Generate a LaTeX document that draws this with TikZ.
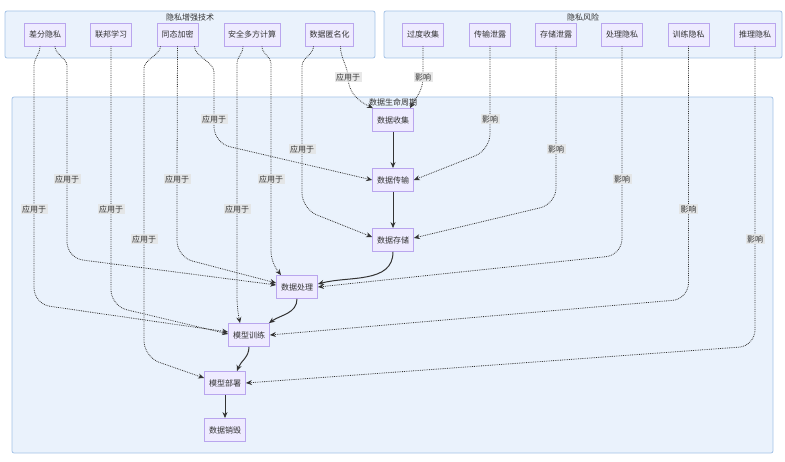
\documentclass[tikz,border=0pt]{standalone}
\usepackage{fontspec}
\setmainfont{Noto Sans CJK SC}
\usepackage{tikz}
\usetikzlibrary{positioning}
\usetikzlibrary{arrows.meta}
\definecolor{nodefill}{HTML}{EEEBFF}
\definecolor{nodeline}{HTML}{B9A6EE}
\definecolor{clusterfill}{HTML}{EAF2FC}
\definecolor{clusterline}{HTML}{A3C2E6}
\definecolor{edgecol}{HTML}{333333}
\definecolor{labelbg}{HTML}{E4E4E4}
\tikzstyle{stage}=[draw=nodeline, fill=nodefill, line width=0.8pt, minimum width=41pt, minimum height=23pt, inner sep=4pt, text=edgecol, font=\fontsize{8}{9}\selectfont]
\tikzstyle{cluster}=[draw=clusterline, fill=clusterfill, line width=0.8pt, rounded corners=2pt]
\tikzstyle{clustertitle}=[text=edgecol, font=\fontsize{8}{9}\selectfont, inner sep=1pt]
\tikzstyle{arrow}=[->, >={Stealth[length=6pt,width=5pt]}, draw=edgecol, line width=1pt]
\tikzstyle{apply}=[->, >={Stealth[length=6pt,width=5pt]}, draw=edgecol, line width=0.8pt, densely dotted]
\tikzstyle{lbl}=[fill=labelbg, fill opacity=0.85, text opacity=1, text=edgecol, font=\fontsize{8}{9}\selectfont, inner sep=1.5pt]

\begin{document}
\begin{tikzpicture}[x=1pt, y=1pt]
      \useasboundingbox (0,0) rectangle (785,-462);

      % clusters
      \draw [cluster] (5,-11) rectangle (375,-58);
      \draw [cluster] (384,-11) rectangle (782,-58);
      \draw [cluster] (12,-97) rectangle (773,-453);
      \node [clustertitle] (techtitle) at (190,-17) {隐私增强技术};
      \node [clustertitle] (risktitle) at (583,-17) {隐私风险};
      \node [clustertitle] (lifetitle) at (393,-102) {数据生命周期};

      \node [stage] (dp) at (45,-34.5) {差分隐私};
      \node [stage] (fl) at (111,-34.5) {联邦学习};
      \node [stage] (he) at (177.5,-34.5) {同态加密};
      \node [stage] (smpc) at (252,-34.5) {安全多方计算};
      \node [stage] (da) at (329.5,-34.5) {数据匿名化};

      \node [stage] (oc) at (423,-34.5) {过度收集};
      \node [stage] (tl) at (490,-34.5) {传输泄露};
      \node [stage] (sl) at (556,-34.5) {存储泄露};
      \node [stage] (pp) at (622,-34.5) {处理隐私};
      \node [stage] (tp) at (688.5,-34.5) {训练隐私};
      \node [stage] (ip) at (755,-34.5) {推理隐私};

      \node [stage] (collect) at (393,-120) {数据收集};
      \node [stage] (transmit) at (393,-180) {数据传输};
      \node [stage] (store) at (393,-240) {数据存储};
      \node [stage] (process) at (297,-287) {数据处理};
      \node [stage] (train) at (249,-335) {模型训练};
      \node [stage] (deploy) at (225,-383) {模型部署};
      \node [stage] (destroy) at (225,-430) {数据销毁};

      \draw [arrow] (collect) -- (transmit);
      \draw [arrow] (transmit) -- (store);
      \draw [arrow] (store.south) to[out=-90,in=15] ([yshift=3pt]process.east);
      \draw [arrow] (process.south) to[out=-90,in=35] ([xshift=-1pt]train.north east);
      \draw [arrow] (train.south) to[out=-90,in=70] ([xshift=12pt]deploy.north);
      \draw [arrow] (deploy) -- (destroy);

      % techniques applied to the stages
      \draw [apply] ([xshift=-5pt]dp.south) .. controls +(0,-8) and +(0,8) .. (34,-66) -- (34,-209) node[lbl]{应用于} [rounded corners=16pt] -- (34,-304) -- ([yshift=3pt]train.west);
      \draw [apply] ([xshift=10pt]dp.south) .. controls +(0,-8) and +(0,8) .. (67,-66) -- (67,-179) node[lbl]{应用于} [rounded corners=16pt] -- (67,-258) -- ([yshift=2pt]process.west);
      \draw [apply] (fl.south) -- (111,-209) node[lbl]{应用于} [rounded corners=16pt] -- (111,-306) -- ([yshift=1pt]train.west);
      \draw [apply] ([xshift=-17pt]he.south) .. controls +(0,-8) and +(0,8) .. (144,-68) -- (144,-239) node[lbl]{应用于} [rounded corners=16pt] -- (144,-357) -- ([yshift=5pt]deploy.west);
      \draw [apply] (he.south) -- (177,-179) node[lbl]{应用于} [rounded corners=16pt] -- (177,-257) -- ([yshift=4pt]process.west);
      \draw [apply] ([xshift=17pt]he.south) .. controls +(0,-10) and +(0,10) .. (214,-72) -- (214,-119) node[lbl]{应用于} [rounded corners=16pt] -- (214,-143) -- (transmit.west);
      \draw [apply] ([xshift=-9pt]smpc.south) .. controls +(0,-8) and +(0,8) .. (237,-64) -- (237,-209) node[lbl]{应用于} [rounded corners=10pt] -- (237,-308) -- ([xshift=-9pt]train.north);
      \draw [apply] ([xshift=10pt]smpc.south) .. controls +(0,-8) and +(0,8) .. (271,-64) -- (271,-179) node[lbl]{应用于} [rounded corners=10pt] -- (271,-262) -- ([xshift=-16pt]process.north);
      \draw [apply] ([xshift=-16pt]da.south) .. controls +(0,-8) and +(0,8) .. (302,-66) -- (302,-149) node[lbl]{应用于} [rounded corners=16pt] -- (302,-209) -- ([yshift=3pt]store.west);
      \draw [apply] ([xshift=11pt]da.south) .. controls +(0,-12) and +(0,10) .. (348,-77) node[lbl]{应用于} to[out=-90,in=155] ([xshift=-20pt]collect.north);

      % risks affecting the stages
      \draw [apply] (oc.south) -- (423,-77) node[lbl]{影响} to[out=-90,in=60] ([xshift=17pt]collect.north);
      \draw [apply] (tl.south) -- (490,-119) node[lbl]{影响} [rounded corners=16pt] -- (490,-150) -- (transmit.east);
      \draw [apply] (sl.south) -- (556,-149) node[lbl]{影响} [rounded corners=16pt] -- (556,-204) -- ([yshift=2pt]store.east);
      \draw [apply] (pp.south) -- (622,-179) node[lbl]{影响} [rounded corners=16pt] -- (622,-255) -- (process.east);
      \draw [apply] (tp.south) -- (688.5,-209) node[lbl]{影响} [rounded corners=16pt] -- (688.5,-299) -- (train.east);
      \draw [apply] (ip.south) -- (755,-239) node[lbl]{影响} [rounded corners=16pt] -- (755,-346) -- (deploy.east);
    \end{tikzpicture}
\end{document}
